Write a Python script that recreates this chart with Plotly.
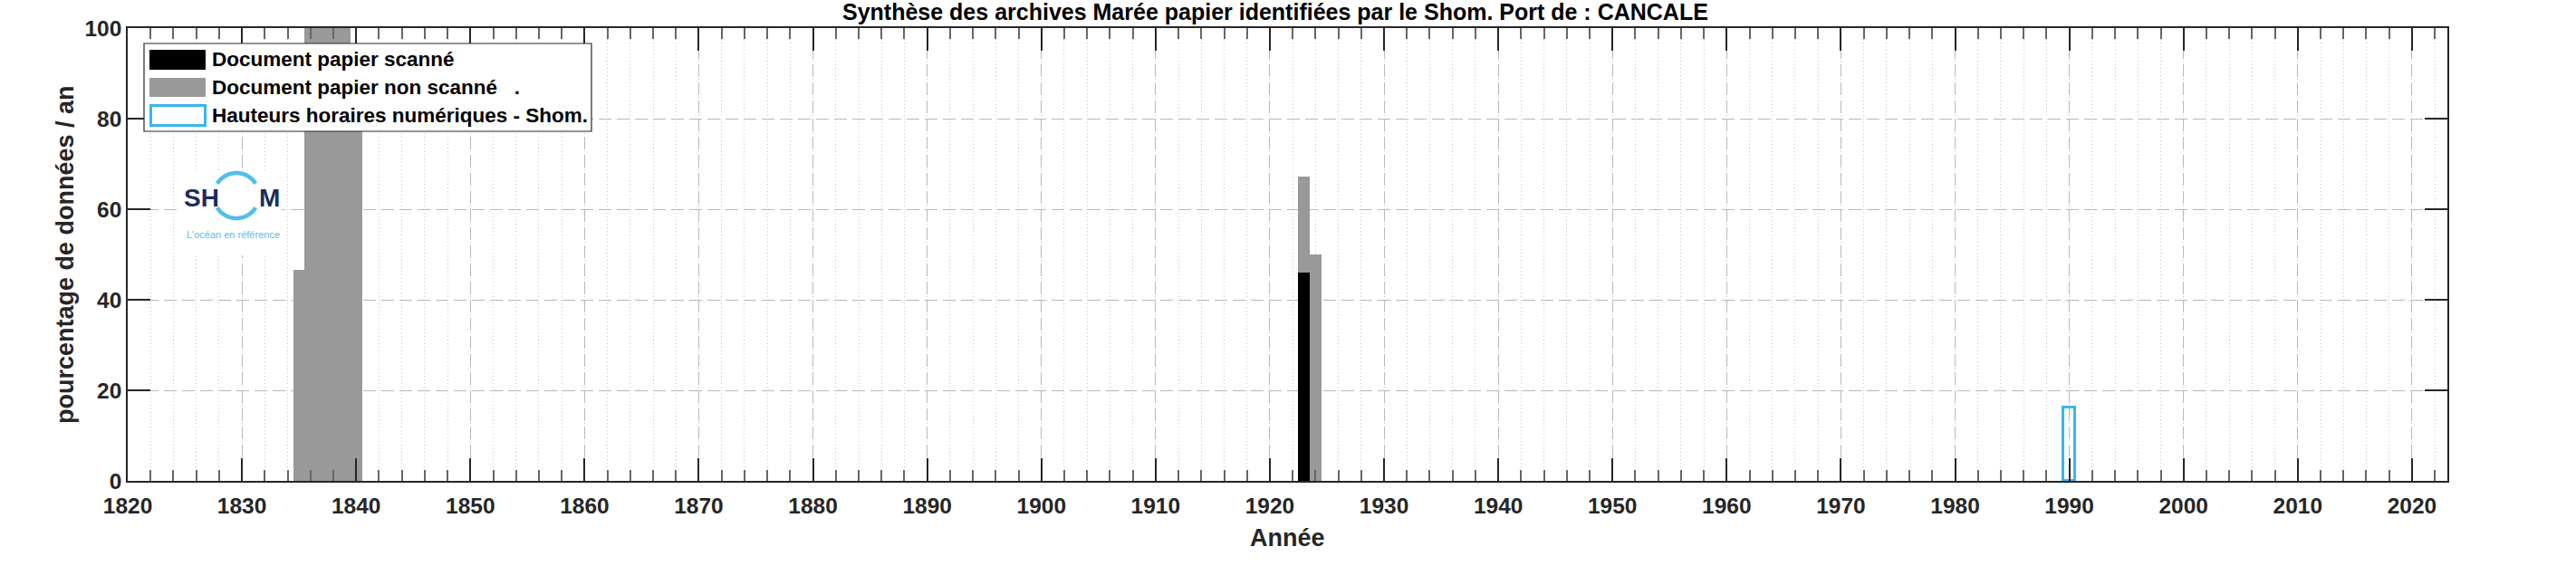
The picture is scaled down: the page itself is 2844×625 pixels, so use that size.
import numpy as np
import plotly.graph_objects as go

# ---------------- data ----------------
years_scanned = [1923]
pct_scanned = [46.0]

years_nonscanned = [1835, 1836, 1837, 1838, 1839, 1840, 1923, 1924]
pct_nonscanned = [46.6, 100.0, 100.0, 100.0, 100.0, 86.0, 21.2, 50.0]

years_hourly = [1990]
pct_hourly = [16.2]

legend_labels = ["Document papier scanné",
                 "Document papier non scanné   .",
                 "Hauteurs horaires numériques - Shom."]
title_text = "Synthèse des archives Marée papier identifiées par le Shom. Port de : CANCALE"
x_title = "Année"
y_title = "pourcentage de données / an"
x_ticks = list(range(1820, 2021, 10))
y_ticks = [0, 20, 40, 60, 80, 100]

# ---------------- layout geometry (page pixels) ----------------
W, H = 2844, 625
L, R, T, B = 141, 2702, 31, 531  # plot area in page pixels
PW, PH = R - L, B - T


def px(x):
    return (x - L) / PW


def py(y):
    return (B - y) / PH


BLACK = "#000000"
GRAY = "#999999"
BLUE = "#38b6f1"
TXT = "#262626"
FONT = "Liberation Sans, Arial, sans-serif"

fig = go.Figure()
fig.add_trace(go.Bar(x=years_scanned, y=pct_scanned, width=1, marker=dict(color=BLACK, line=dict(width=0)),
                     name=legend_labels[0], showlegend=False))
fig.add_trace(go.Bar(x=years_nonscanned, y=pct_nonscanned, width=1, marker=dict(color=GRAY, line=dict(width=0)),
                     name=legend_labels[1], showlegend=False))
fig.add_trace(go.Bar(x=years_hourly, y=pct_hourly, width=1,
                     marker=dict(color="rgba(0,0,0,0)", line=dict(color=BLUE, width=3)),
                     name=legend_labels[2], showlegend=False))

shapes = []
annotations = []

# logo background
shapes.append(dict(type="rect", xref="paper", yref="paper", x0=px(200), x1=px(311), y0=py(282), y1=py(190),
                   fillcolor="white", line=dict(width=0), layer="above"))


def arc(cx, cy, r, a0, a1, n=40):
    angs = np.radians(np.linspace(a0, a1, n))
    pts = [(px(cx + r * np.cos(a)), py(cy - r * np.sin(a))) for a in angs]
    return "M " + " L ".join(f"{x:.6f},{y:.6f}" for x, y in pts)


LOGO_BLUE = "#4fbfea"
shapes.append(dict(type="path", xref="paper", yref="paper", path=arc(261, 216, 25, 148, 32),
                   line=dict(color=LOGO_BLUE, width=4.5), layer="above"))
shapes.append(dict(type="path", xref="paper", yref="paper", path=arc(261, 216, 25, 212, 328),
                   line=dict(color=LOGO_BLUE, width=4.5), layer="above"))
annotations.append(dict(text="<b>SH</b>", xref="paper", yref="paper", x=px(222), y=py(218), showarrow=False,
                        font=dict(family=FONT, size=28, color="#1b2d5b"), xanchor="center", yanchor="middle"))
annotations.append(dict(text="<b>M</b>", xref="paper", yref="paper", x=px(297), y=py(218), showarrow=False,
                        font=dict(family=FONT, size=28, color="#1b2d5b"), xanchor="center", yanchor="middle"))
annotations.append(dict(text="L'océan en référence", xref="paper", yref="paper", x=px(257), y=py(259),
                        showarrow=False, font=dict(family=FONT, size=11, color="#5bbde8"),
                        xanchor="center", yanchor="middle"))

# manual legend
shapes.append(dict(type="rect", xref="paper", yref="paper", x0=px(159), x1=px(653), y0=py(145), y1=py(48),
                   fillcolor="white", line=dict(color="#262626", width=1.2), layer="above"))
shapes.append(dict(type="rect", xref="paper", yref="paper", x0=px(165), x1=px(227), y0=py(77), y1=py(55),
                   fillcolor=BLACK, line=dict(width=0), layer="above"))
shapes.append(dict(type="rect", xref="paper", yref="paper", x0=px(165), x1=px(227), y0=py(107), y1=py(86),
                   fillcolor=GRAY, line=dict(width=0), layer="above"))
shapes.append(dict(type="rect", xref="paper", yref="paper", x0=px(166.5), x1=px(226.5), y0=py(138.5),
                   y1=py(116.5), fillcolor="white", line=dict(color=BLUE, width=3), layer="above"))
for lab, yc in zip(legend_labels, [66, 96, 128]):
    annotations.append(dict(text=f"<b>{lab}</b>", xref="paper", yref="paper", x=px(232), y=py(yc),
                            showarrow=False, xanchor="left", yanchor="middle",
                            font=dict(family=FONT, size=22.5, color="black")))

# title and axis titles
annotations.append(dict(text=f"<b>{title_text}</b>", xref="paper", yref="paper", x=px(1408), y=py(13),
                        showarrow=False, xanchor="center", yanchor="middle",
                        font=dict(family=FONT, size=25, color="black")))
annotations.append(dict(text=f"<b>{x_title}</b>", xref="paper", yref="paper", x=px(1421), y=py(594),
                        showarrow=False, xanchor="center", yanchor="middle",
                        font=dict(family=FONT, size=27, color=TXT)))
annotations.append(dict(text=f"<b>{y_title}</b>", xref="paper", yref="paper", x=px(72), y=py(281),
                        showarrow=False, xanchor="center", yanchor="middle", textangle=-90,
                        font=dict(family=FONT, size=27, color=TXT)))

fig.update_layout(
    width=W, height=H,
    margin=dict(l=L, r=W - R, t=T, b=H - B, pad=0),
    paper_bgcolor="white", plot_bgcolor="white",
    barmode="stack", bargap=0,
    showlegend=False,
    font=dict(family=FONT, color=TXT),
    shapes=shapes, annotations=annotations,
)

fig.update_xaxes(
    range=[1820, 2023.1], tickmode="array", tickvals=x_ticks, ticktext=[str(v) for v in x_ticks],
    ticks="inside", ticklen=25, tickwidth=1.5, tickcolor=TXT,
    showline=True, linecolor=TXT, linewidth=1.5, mirror="ticks",
    showgrid=True, gridcolor="#b8b8b8", gridwidth=1, griddash="14px,6px",
    minor=dict(dtick=2, tick0=1820, ticks="inside", ticklen=12, tickcolor="#666666", tickwidth=1.5,
               showgrid=True, gridcolor="#c4c4c4", gridwidth=1, griddash="1px,3px"),
    tickfont=dict(family=FONT, size=24.5, color=TXT, weight="bold"),
    ticklabelstandoff=5,
    zeroline=False,
)
fig.update_yaxes(
    range=[0, 100], tickmode="array", tickvals=y_ticks, ticktext=[str(v) for v in y_ticks],
    ticks="inside", ticklen=25, tickwidth=1.5, tickcolor=TXT,
    showline=True, linecolor=TXT, linewidth=1.5, mirror="ticks",
    showgrid=True, gridcolor="#b8b8b8", gridwidth=1, griddash="14px,6px",
    tickfont=dict(family=FONT, size=24.5, color=TXT, weight="bold"),
    zeroline=False,
)

fig.write_html("out.html", config={"displayModeBar": False},
               post_script="document.body.style.margin='0';document.body.style.overflow='hidden';")
